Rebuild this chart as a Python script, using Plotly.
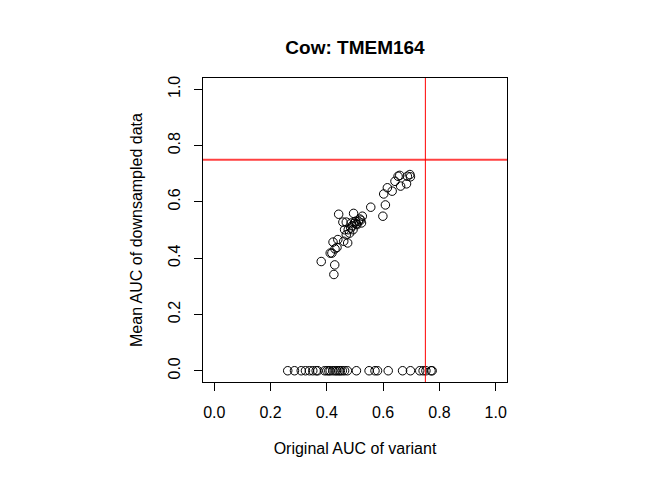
import plotly.graph_objects as go

# variants with a non-zero downsampled AUC
orig_auc = [
    0.380, 0.428, 0.425, 0.412, 0.418, 0.422, 0.429, 0.436, 0.439, 0.442,
    0.457, 0.460, 0.469, 0.474, 0.469, 0.476, 0.481, 0.485, 0.487, 0.493,
    0.495, 0.499, 0.502, 0.507, 0.512, 0.517, 0.523, 0.526, 0.463, 0.490,
    0.505, 0.520, 0.556, 0.599, 0.602, 0.608, 0.615, 0.632, 0.642, 0.653,
    0.659, 0.662, 0.683, 0.686, 0.695, 0.697,
]
mean_auc = [
    0.388, 0.376, 0.342, 0.418, 0.418, 0.457, 0.433, 0.438, 0.466, 0.556,
    0.528, 0.460, 0.528, 0.454, 0.483, 0.501, 0.489, 0.507, 0.525, 0.501,
    0.559, 0.525, 0.531, 0.519, 0.531, 0.539, 0.525, 0.549, 0.501, 0.515,
    0.522, 0.535, 0.581, 0.549, 0.628, 0.589, 0.650, 0.638, 0.673, 0.691,
    0.694, 0.656, 0.664, 0.691, 0.697, 0.689,
]

# variants whose downsampled AUC came out as zero
zero_orig = [
    0.261, 0.285, 0.309, 0.324, 0.338, 0.350, 0.362, 0.368, 0.392, 0.400,
    0.407, 0.412, 0.422, 0.430, 0.436, 0.443, 0.448, 0.455, 0.463, 0.473,
    0.505, 0.550, 0.571, 0.580, 0.618, 0.669, 0.697, 0.730, 0.742, 0.752,
    0.770, 0.774,
]
zero_mean = [0.0] * len(zero_orig)

threshold = 0.75
tick_vals = [0.0, 0.2, 0.4, 0.6, 0.8, 1.0]
tick_text = ["0.0", "0.2", "0.4", "0.6", "0.8", "1.0"]

FONT = "Liberation Sans, Arial, sans-serif"

fig = go.Figure()
fig.add_trace(go.Scatter(
    x=orig_auc + zero_orig,
    y=mean_auc + zero_mean,
    mode="markers",
    marker=dict(symbol="circle-open", size=8.5, color="black",
                line=dict(width=1, color="black")),
    showlegend=False,
))

fig.add_hline(y=threshold, line=dict(color="rgba(255,0,0,0.75)", width=2))
fig.add_vline(x=threshold, line=dict(color="red", width=1))

axis_common = dict(
    range=[-0.04, 1.04],
    tickvals=tick_vals,
    ticktext=tick_text,
    ticks="outside",
    ticklen=8,
    tickcolor="black",
    showline=True,
    linecolor="black",
    linewidth=1,
    mirror=True,
    showgrid=False,
    zeroline=False,
    tickfont=dict(family=FONT, size=16, color="black"),
)

# page body adds an 8px offset, so margins are shifted to compensate
fig.update_layout(
    width=672,
    height=480,
    margin=dict(l=195, r=173, t=70, b=106),
    paper_bgcolor="white",
    plot_bgcolor="white",
    title=dict(
        text="<b>Cow: TMEM164</b>",
        x=0.5164, xanchor="center",
        y=0.917, yanchor="middle",
        font=dict(family=FONT, size=19, color="black"),
    ),
    xaxis=dict(
        **axis_common,
        ticklabelstandoff=8,
        title=dict(text="Original AUC of variant", standoff=22,
                   font=dict(family=FONT, size=16, color="black")),
    ),
    yaxis=dict(
        **axis_common,
        tickangle=-90,
        ticklabelstandoff=8,
        title=dict(text="Mean AUC of downsampled data", standoff=18,
                   font=dict(family=FONT, size=16, color="black")),
    ),
)

fig.write_html("out.html")
